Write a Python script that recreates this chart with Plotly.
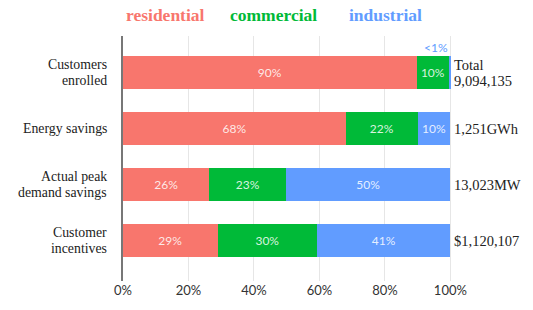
import plotly.graph_objects as go

categories = ["Customers<br>enrolled", "Energy savings", "Actual peak<br>demand savings", "Customer<br>incentives"]
residential = [89.7, 68.1, 26.4, 28.9]
commercial = [9.9, 21.9, 23.4, 30.4]
industrial = [0.4, 10.0, 50.2, 40.7]
res_labels = ["90%", "68%", "26%", "29%"]
com_labels = ["10%", "22%", "23%", "30%"]
ind_labels = ["", "10%", "50%", "41%"]
totals = ["Total<br>9,094,135", "1,251GWh", "13,023MW", "$1,120,107"]
x_ticks = [0, 20, 40, 60, 80, 100]
x_ticktext = ["0%", "20%", "40%", "60%", "80%", "100%"]

colors = {"residential": "#F8766D", "commercial": "#00BA38", "industrial": "#619CFF"}
serif = "Liberation Serif"
sans = "Lato"

W, H = 533, 310
ML, MR, MT, MB = 123, 81, 36, 20
PW, PH = W - ML - MR, H - MT - MB
LINE = 16  # tight line spacing of multi-line labels
LBL = 13.8

fig = go.Figure()
for name, vals, labs in [("residential", residential, res_labels),
                         ("commercial", commercial, com_labels),
                         ("industrial", industrial, ind_labels)]:
    fig.add_trace(go.Bar(
        y=categories, x=vals, orientation="h", name=name,
        marker=dict(color=colors[name], line=dict(width=0)),
        text=labs, textposition="inside", insidetextanchor="middle",
        textfont=dict(family=sans, size=12, color="rgba(255,255,255,0.85)"),
        showlegend=False, hoverinfo="skip",
    ))


def add_lines(text, cat, **kw):
    lines = text.split("<br>")
    n = len(lines)
    for i, ln in enumerate(lines):
        shift = ((n - 1) / 2 - i) * LINE
        fig.add_annotation(y=cat, yref="y", text=ln, showarrow=False,
                           yshift=shift, yanchor="middle", **kw)


# category labels on the left (tight line spacing)
for cat in categories:
    add_lines(cat, cat, x=0, xref="paper", xanchor="right", xshift=-14,
              font=dict(family=serif, size=LBL, color="#222"))

# totals on the right
for cat, t in zip(categories, totals):
    add_lines(t, cat, x=100, xref="x", xanchor="left", xshift=2,
              font=dict(family=serif, size=LBL + 0.7, color="#222"))

# <1% note for industrial customers enrolled
fig.add_annotation(x=100, y=categories[0], xref="x", yref="y", text="<1%", showarrow=False,
                   xanchor="right", yanchor="bottom", yshift=16,
                   font=dict(family=sans, size=12, color=colors["industrial"]))

# legend-like title labels
for name, xp in [("residential", 165), ("commercial", 273), ("industrial", 385)]:
    fig.add_annotation(x=(xp - ML) / PW, y=(H - MB - 14) / PH, xref="paper", yref="paper",
                       text="<b>" + name + "</b>",
                       showarrow=False, xanchor="center", yanchor="middle",
                       font=dict(family=serif, size=17.5, color=colors[name]))

fig.update_layout(
    barmode="stack", bargap=0.4,
    width=W, height=H,
    margin=dict(l=ML, r=MR, t=MT, b=MB),
    plot_bgcolor="white", paper_bgcolor="white",
    xaxis=dict(range=[0, 100.5], tickvals=x_ticks, ticktext=x_ticktext,
               showgrid=True, gridcolor="#e6e6e6", gridwidth=1, zeroline=False,
               showline=False, ticks="", tickfont=dict(family=sans, size=13, color="#333")),
    yaxis=dict(range=[3.72, -0.655], showgrid=False, ticks="", showline=True,
               linecolor="#777", linewidth=2, showticklabels=False),
)

fig.write_html("out.html", post_script="document.body.style.margin='0';",
               config={"displayModeBar": False})
